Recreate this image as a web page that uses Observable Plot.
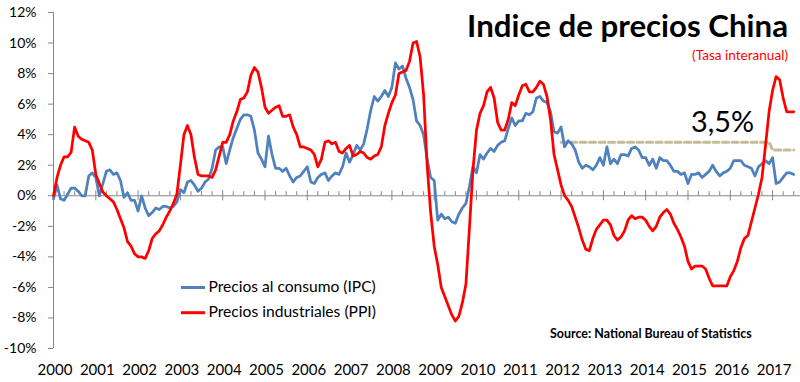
<!DOCTYPE html>
<html><head><meta charset="utf-8">
<script src="https://cdn.jsdelivr.net/npm/d3@7"></script>
<script src="https://cdn.jsdelivr.net/npm/@observablehq/plot@0.6"></script>
<style>
body{margin:0;background:#fff;}
#wrap{position:relative;width:800px;height:382px;overflow:hidden;}
</style></head><body>
<div id="wrap"></div>
<script>
// Monthly data, Jan 2000 .. Jul 2017 (year-on-year %)
const startYear = 2000;
const cpi = [
  -0.2, 0.7, -0.2, -0.3, 0.1, 0.5, 0.5, 0.3, 0.0, 0.0, 1.3, 1.5,
  1.2, 0.0, 0.8, 1.6, 1.7, 1.4, 1.5, 1.0, -0.1, 0.2, -0.3, -0.3,
  -1.0, 0.0, -0.8, -1.3, -1.1, -0.8, -0.9, -0.7, -0.7, -0.8, -0.7, -0.4,
  0.4, 0.2, 0.9, 1.0, 0.7, 0.3, 0.5, 0.9, 1.1, 1.8, 3.0, 3.2,
  3.2, 2.1, 3.0, 3.8, 4.4, 5.0, 5.3, 5.3, 5.2, 4.3, 2.8, 2.4,
  1.9, 3.9, 2.7, 1.8, 1.8, 1.6, 1.8, 1.3, 0.9, 1.2, 1.3, 1.6,
  1.9, 0.9, 0.8, 1.2, 1.4, 1.5, 1.0, 1.3, 1.5, 1.4, 1.9, 2.8,
  2.2, 2.7, 3.3, 3.0, 3.4, 4.4, 5.6, 6.5, 6.2, 6.5, 6.9, 6.5,
  7.1, 8.7, 8.3, 8.5, 7.7, 7.1, 6.3, 4.9, 4.6, 4.0, 2.4, 1.2,
  1.0, -1.6, -1.2, -1.5, -1.4, -1.7, -1.8, -1.2, -0.8, -0.5, 0.6, 1.9,
  1.5, 2.7, 2.4, 2.8, 3.1, 2.9, 3.3, 3.5, 3.6, 4.4, 5.1, 4.6,
  4.9, 4.9, 5.4, 5.3, 5.5, 6.4, 6.5, 6.2, 6.1, 5.5, 4.2, 4.1,
  4.5, 3.2, 3.6, 3.4, 3.0, 2.2, 1.8, 2.0, 1.9, 1.7, 2.0, 2.5,
  2.0, 3.2, 2.1, 2.4, 2.1, 2.7, 2.7, 2.6, 3.1, 3.2, 3.0, 2.5,
  2.5, 2.0, 2.4, 1.8, 2.5, 2.3, 2.3, 2.0, 1.6, 1.6, 1.4, 1.5,
  0.8, 1.4, 1.4, 1.5, 1.2, 1.4, 1.6, 2.0, 1.6, 1.3, 1.5, 1.6,
  1.8, 2.3, 2.3, 2.3, 2.0, 1.9, 1.8, 1.3, 1.9, 2.1, 2.3, 2.1,
  2.5, 0.8, 0.9, 1.2, 1.5, 1.5, 1.4
];
const ppi = [
  0.0, 1.2, 2.0, 2.55, 2.55, 2.85, 4.5, 3.9, 3.7, 3.6, 3.5, 3.0,
  1.4, 0.8, 0.25, 0.0, -0.2, -0.4, -0.9, -1.5, -2.1, -3.0, -3.3, -3.8,
  -4.0, -4.0, -4.1, -3.6, -2.8, -2.5, -2.3, -1.9, -1.4, -1.0, -0.5, 0.1,
  2.0, 4.0, 4.6, 4.0, 2.5, 1.4, 1.3, 1.3, 1.3, 1.2, 1.7, 2.6,
  3.5, 3.5, 4.0, 4.9, 5.5, 6.3, 6.4, 6.8, 7.9, 8.4, 8.1, 7.1,
  5.8, 5.4, 5.6, 5.8, 5.9, 5.2, 5.2, 5.3, 4.5, 4.0, 3.2, 3.2,
  3.1, 3.0, 2.7, 1.9, 2.4, 3.5, 3.6, 3.4, 3.5, 2.9, 2.8, 3.1,
  3.3, 2.6, 2.7, 2.9, 2.8, 2.5, 2.4, 2.6, 2.7, 3.2, 4.6, 5.4,
  6.1, 6.6, 8.0, 8.1, 8.2, 8.8, 10.0, 10.1, 9.1, 6.6, 2.0, -1.1,
  -3.3, -4.5, -6.0, -6.6, -7.2, -7.8, -8.2, -7.9, -7.0, -5.8, -2.1, 1.7,
  4.3, 5.4, 5.9, 6.8, 7.1, 6.4, 4.8, 4.3, 4.3, 5.0, 6.1, 5.9,
  6.6, 7.2, 7.3, 6.8, 6.8, 7.1, 7.5, 7.3, 6.5, 5.0, 2.7, 1.7,
  0.7, 0.0, -0.3, -0.7, -1.4, -2.1, -2.9, -3.5, -3.6, -2.8, -2.2, -1.9,
  -1.6, -1.6, -1.9, -2.6, -2.9, -2.7, -2.3, -1.6, -1.3, -1.5, -1.4, -1.4,
  -1.6, -2.0, -2.3, -2.0, -1.4, -1.1, -0.9, -1.2, -1.8, -2.2, -2.7, -3.3,
  -4.3, -4.8, -4.6, -4.6, -4.6, -4.8, -5.4, -5.9, -5.9, -5.9, -5.9, -5.9,
  -5.3, -4.9, -4.3, -3.4, -2.8, -2.6, -1.7, -0.8, 0.1, 1.2, 3.3, 5.5,
  6.9, 7.8, 7.6, 6.4, 5.5, 5.5, 5.5
];
// Inflation target (dashed): [year, month] and value
const targetDates = [[2012, 1], [2016, 12], [2017, 1], [2017, 7]];
const targetValues = [3.5, 3.5, 3.0, 3.0];
const yTicks = [-10, -8, -6, -4, -2, 0, 2, 4, 6, 8, 10, 12];
const yearTicks = [2000,2001,2002,2003,2004,2005,2006,2007,2008,2009,2010,2011,2012,2013,2014,2015,2016,2017];

const seriesNames = ["Precios al consumo (IPC)", "Precios industriales (PPI)"];
const colors = ["#4F81BD", "#FF0000"];
const targetColor = "#C4BD97";
const axisColor = "#868686";

const toT = i => startYear + i / 12;
const cpiData = cpi.map((v, i) => ({t: toT(i), v}));
const ppiData = ppi.map((v, i) => ({t: toT(i), v}));
const targetData = targetDates.map(([y, m], i) => ({t: y + (m - 1) / 12, v: targetValues[i]}));
const quarterTicks = [];
yearTicks.forEach(y => [0.25, 0.5, 0.75].forEach(q => { if (y + q < 2017.66) quarterTicks.push(y + q); }));

const chart = Plot.plot({
  width: 800, height: 382,
  marginLeft: 53, marginRight: 0, marginTop: 12, marginBottom: 34,
  style: {fontFamily: "Lato, 'Open Sans', sans-serif", background: "white", color: "black"},
  x: {domain: [2000, 2017.66], label: null},
  y: {domain: [-10, 12], label: null},
  marks: [
    Plot.ruleX([2000], {y1: -10, y2: 12, stroke: axisColor, strokeWidth: 1}),
    Plot.ruleY([0], {stroke: axisColor, strokeWidth: 1}),
    Plot.ruleX(yearTicks, {x: d => d, y1: -0.33, y2: 0.33, stroke: axisColor, strokeWidth: 1}),
    Plot.ruleX(quarterTicks, {x: d => d, y1: 0, y2: 0.27, stroke: axisColor, strokeWidth: 1}),
    Plot.axisY(yTicks, {label: null, tickFormat: d => d + "%", tickSize: 5, tickPadding: 12, fontSize: 14, stroke: axisColor, fill: "black"}),
    Plot.axisX(yearTicks, {label: null, tickFormat: d => String(d), tickSize: 0, tickPadding: 16, fontSize: 15, dx: 1.5, fill: "black"}),
    Plot.line(targetData, {x: "t", y: "v", stroke: targetColor, strokeWidth: 3, strokeDasharray: "6,3.5"}),
    Plot.line(cpiData, {x: "t", y: "v", stroke: colors[0], strokeWidth: 2.75, strokeLinejoin: "round"}),
    Plot.line(ppiData, {x: "t", y: "v", stroke: colors[1], strokeWidth: 2.75, strokeLinejoin: "round"})
  ]
});
document.getElementById("wrap").appendChild(chart);

const svg = d3.select(chart);
function addText(str, x, y, opts) {
  const t = svg.append("text").attr("x", x).attr("y", y)
    .attr("font-family", "Lato, 'Open Sans', sans-serif")
    .attr("font-size", opts.size).attr("font-weight", opts.weight || "normal")
    .attr("fill", opts.fill || "black").attr("text-anchor", opts.anchor || "start")
    .text(str);
  if (opts.width) {
    const w = t.node().getComputedTextLength();
    if (w > 0) t.attr("font-size", opts.size * opts.width / w);
  }
  return t;
}
addText("Indice de precios China", 788, 37, {size: 30, weight: "bold", anchor: "end", width: 321});
addText("(Tasa interanual)", 788, 60, {size: 12, fill: "#FF0000", anchor: "end", width: 96});
addText("3,5%", 691, 131.5, {size: 29, width: 63});
addText("Source: National Bureau of Statistics", 550, 338, {size: 11.5, weight: "bold", width: 202});
// legend
[0, 1].forEach(i => {
  const cy = i === 0 ? 287.5 : 312.7;
  svg.append("line").attr("x1", 181).attr("x2", 205).attr("y1", cy).attr("y2", cy)
    .attr("stroke", colors[i]).attr("stroke-width", 3);
  addText(seriesNames[i], 208.5, cy + 4.7, {size: 15, width: 167.5});
});
</script>
</body></html>
